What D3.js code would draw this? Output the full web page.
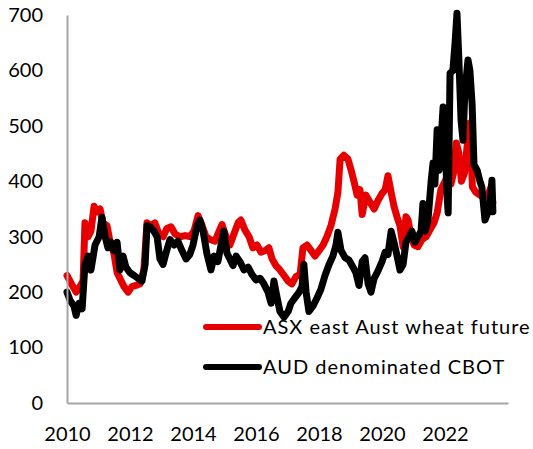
<!DOCTYPE html>
<html>
<head>
<meta charset="utf-8">
<script src="https://cdn.jsdelivr.net/npm/d3@7"></script>
<style>
  body { margin: 0; background: #fff; }
  text { font-family: Lato, "Liberation Sans", sans-serif; fill: #000; }
</style>
</head>
<body>
<svg></svg>
<script>
var width = 533;
var height = 449;

// [decimal year, value]
var asxFuture = [
  [2010.00, 230], [2010.16, 213], [2010.29, 200], [2010.41, 210], [2010.51, 220],
  [2010.57, 325], [2010.67, 300], [2010.76, 310], [2010.86, 355], [2010.95, 345],
  [2011.05, 350], [2011.14, 325], [2011.27, 320], [2011.37, 290], [2011.49, 270],
  [2011.59, 235], [2011.68, 225], [2011.81, 210], [2011.94, 200], [2012.06, 210],
  [2012.19, 212], [2012.32, 215], [2012.44, 240], [2012.54, 325], [2012.67, 320],
  [2012.79, 325], [2012.92, 305], [2013.05, 300], [2013.17, 315], [2013.30, 318],
  [2013.43, 305], [2013.59, 300], [2013.75, 302], [2013.90, 300], [2014.03, 310],
  [2014.16, 338], [2014.29, 320], [2014.41, 300], [2014.54, 295], [2014.70, 292],
  [2014.83, 310], [2014.92, 322], [2015.05, 300], [2015.17, 285], [2015.30, 305],
  [2015.43, 325], [2015.52, 330], [2015.65, 312], [2015.78, 300], [2015.90, 280],
  [2016.03, 285], [2016.16, 272], [2016.29, 275], [2016.41, 280], [2016.51, 260],
  [2016.63, 248], [2016.76, 240], [2016.89, 230], [2017.02, 220], [2017.14, 215],
  [2017.27, 228], [2017.40, 232], [2017.49, 280], [2017.62, 285], [2017.75, 275],
  [2017.87, 265], [2018.00, 275], [2018.13, 285], [2018.25, 300], [2018.38, 320],
  [2018.51, 350], [2018.60, 380], [2018.67, 440], [2018.79, 447], [2018.92, 440],
  [2019.02, 420], [2019.11, 400], [2019.21, 375], [2019.30, 385], [2019.37, 340],
  [2019.49, 375], [2019.62, 362], [2019.75, 350], [2019.87, 365], [2020.00, 378],
  [2020.10, 385], [2020.19, 410], [2020.29, 380], [2020.38, 355], [2020.48, 335],
  [2020.57, 320], [2020.67, 282], [2020.76, 336], [2020.83, 330], [2020.92, 300],
  [2021.02, 285], [2021.14, 282], [2021.27, 295], [2021.40, 300], [2021.52, 312],
  [2021.65, 325], [2021.75, 343], [2021.87, 385], [2022.00, 400], [2022.10, 412],
  [2022.19, 395], [2022.29, 420], [2022.36, 469], [2022.44, 451], [2022.52, 400],
  [2022.62, 415], [2022.73, 480], [2022.79, 505], [2022.87, 390], [2022.98, 380],
  [2023.11, 375], [2023.24, 372], [2023.37, 375], [2023.46, 390], [2023.52, 362]
];

var cbotAud = [
  [2010.00, 200], [2010.10, 185], [2010.22, 175], [2010.29, 158], [2010.38, 180],
  [2010.48, 170], [2010.57, 250], [2010.67, 265], [2010.76, 240], [2010.89, 285],
  [2011.02, 300], [2011.11, 335], [2011.21, 300], [2011.30, 280], [2011.40, 290],
  [2011.49, 275], [2011.59, 290], [2011.68, 240], [2011.78, 265], [2011.87, 245],
  [2012.00, 235], [2012.13, 230], [2012.25, 225], [2012.38, 220], [2012.48, 250],
  [2012.54, 320], [2012.63, 318], [2012.76, 310], [2012.86, 300], [2012.95, 260],
  [2013.05, 250], [2013.14, 270], [2013.27, 295], [2013.40, 285], [2013.52, 292],
  [2013.65, 275], [2013.78, 260], [2013.90, 268], [2014.00, 285], [2014.13, 320],
  [2014.22, 330], [2014.32, 310], [2014.44, 270], [2014.57, 240], [2014.67, 265],
  [2014.79, 255], [2014.89, 285], [2014.98, 310], [2015.08, 270], [2015.17, 260],
  [2015.27, 248], [2015.37, 265], [2015.49, 255], [2015.62, 240], [2015.75, 245],
  [2015.87, 232], [2016.00, 222], [2016.13, 225], [2016.25, 215], [2016.38, 200],
  [2016.48, 180], [2016.57, 220], [2016.67, 190], [2016.76, 165], [2016.89, 155],
  [2017.02, 165], [2017.11, 180], [2017.24, 190], [2017.37, 200], [2017.46, 210],
  [2017.52, 250], [2017.59, 200], [2017.68, 165], [2017.81, 175], [2017.94, 190],
  [2018.06, 205], [2018.19, 230], [2018.32, 250], [2018.44, 265], [2018.54, 285],
  [2018.60, 308], [2018.70, 275], [2018.83, 262], [2018.95, 258], [2019.08, 245],
  [2019.17, 235], [2019.27, 212], [2019.37, 255], [2019.46, 262], [2019.56, 215],
  [2019.65, 200], [2019.75, 225], [2019.87, 238], [2020.00, 255], [2020.10, 272],
  [2020.19, 268], [2020.29, 310], [2020.38, 290], [2020.48, 265], [2020.57, 240],
  [2020.67, 250], [2020.76, 290], [2020.86, 300], [2020.95, 310], [2021.05, 290],
  [2021.14, 300], [2021.24, 310], [2021.30, 360], [2021.37, 310], [2021.46, 330],
  [2021.56, 400], [2021.62, 433], [2021.68, 395], [2021.75, 493], [2021.81, 420],
  [2021.87, 470], [2021.94, 534], [2022.00, 480], [2022.06, 380], [2022.10, 343],
  [2022.16, 595], [2022.25, 600], [2022.32, 650], [2022.38, 703], [2022.44, 620],
  [2022.51, 510], [2022.57, 474], [2022.63, 560], [2022.73, 619], [2022.79, 600],
  [2022.86, 540], [2022.92, 430], [2023.02, 420], [2023.11, 400], [2023.17, 390],
  [2023.27, 330], [2023.37, 345], [2023.43, 360], [2023.49, 402], [2023.52, 345]
];

var yTicks = [0, 100, 200, 300, 400, 500, 600, 700];
var xTicks = [2010, 2012, 2014, 2016, 2018, 2020, 2022];
var seriesNames = ["ASX east Aust wheat future", "AUD denominated CBOT"];
var seriesColors = ["#e60000", "#000000"];

var plotLeft = 67, plotRight = 508, plotTop = 15, plotBottom = 403;

var xScale = d3.scaleLinear()
                .domain([2010, 2024])
                .range([plotLeft, plotRight]);
var yScale = d3.scaleLinear()
                .domain([0, 700])
                .range([plotBottom, plotTop]);

var svg = d3.select("svg")
    .attr("width", width)
    .attr("height", height);

var line = d3.line()
    .x(d => xScale(d[0]))
    .y(d => yScale(d[1]));

[asxFuture, cbotAud].forEach(function(series, i) {
  svg.append("path")
      .datum(series)
      .attr("d", line)
      .attr("fill", "none")
      .attr("stroke", seriesColors[i])
      .attr("stroke-width", 7)
      .attr("stroke-linejoin", "round")
      .attr("stroke-linecap", "round");
});

var xAxis = d3.axisBottom(xScale)
                .tickValues(xTicks)
                .tickFormat(d3.format("d"))
                .tickSize(0)
                .tickPadding(24);
var yAxis = d3.axisLeft(yScale)
                .tickValues(yTicks)
                .tickSize(0)
                .tickPadding(24);

var gx = svg.append("g")
    .attr("transform", "translate(0," + plotBottom + ")")
    .call(xAxis);
var gy = svg.append("g")
    .attr("transform", "translate(" + plotLeft + ",0)")
    .call(yAxis);

[gx, gy].forEach(function(g) {
  g.select(".domain").attr("stroke", "#a6a6a6").attr("stroke-width", 2);
  g.selectAll("text")
    .style("font-family", "Lato, 'Liberation Sans', sans-serif")
    .style("font-size", "20px")
    .attr("fill", "#000");
});

// legend
var legend = svg.selectAll(".legend")
    .data(seriesNames)
    .enter()
    .append("g")
        .attr("transform", (d, i) => "translate(0," + (327 + i * 40) + ")");
legend.append("line")
    .attr("x1", 206)
    .attr("x2", 259)
    .attr("stroke", (d, i) => seriesColors[i])
    .attr("stroke-width", 6)
    .attr("stroke-linecap", "round");
legend.append("text")
    .attr("x", 263)
    .attr("dy", "0.35em")
    .style("font-size", "20px")
    .style("letter-spacing", "1px")
    .text(d => d);
</script>
</body>
</html>
